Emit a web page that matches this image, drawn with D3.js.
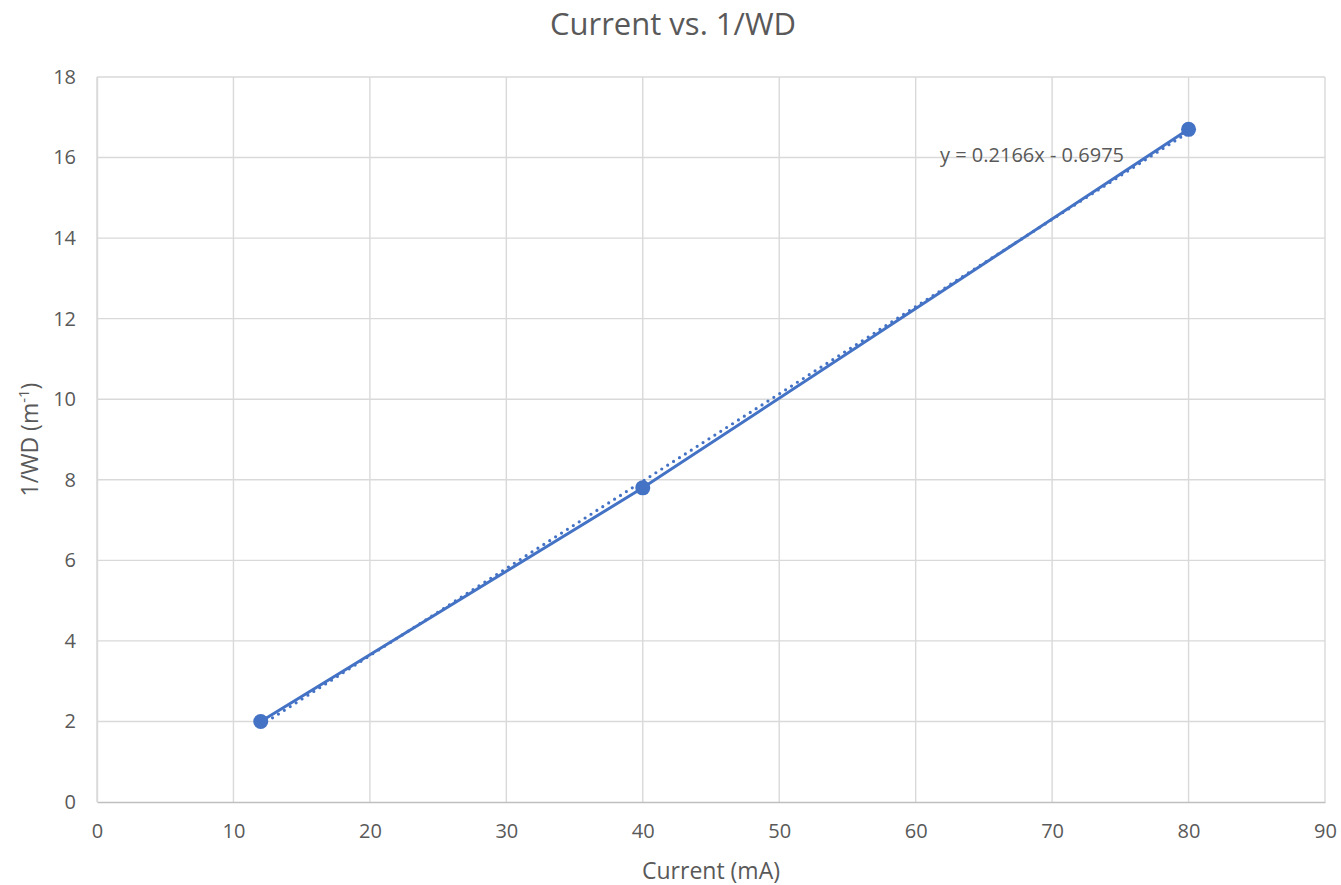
<!DOCTYPE html>
<html>
<head>
<meta charset="utf-8">
<script src="https://cdn.jsdelivr.net/npm/d3@7"></script>
<style>
  body { margin: 0; background: #fff; }
  text { font-family: "Open Sans", "Noto Sans", sans-serif; fill: #595959; }
</style>
</head>
<body>
<div id="chart"></div>
<script>
/* Current vs. 1/WD scatter with linear trendline */

const current = [12, 40, 80];          // mA
const invWD = [2.0, 7.8, 16.7];        // 1/WD (m^-1)
const xTicks = [0, 10, 20, 30, 40, 50, 60, 70, 80, 90];
const yTicks = [0, 2, 4, 6, 8, 10, 12, 14, 16, 18];
const slope = 0.2166, intercept = -0.6975;

const width = 1341, height = 885;
const margin = {top: 77, right: 16, bottom: 83, left: 97};

const x = d3.scaleLinear().domain([0, 90]).range([margin.left, width - margin.right]);
const y = d3.scaleLinear().domain([0, 18]).range([height - margin.bottom, margin.top]);

const svg = d3.select("#chart")
  .append("svg")
  .attr("width", width)
  .attr("height", height);

// gridlines
svg.append("g")
  .attr("stroke", "#d9d9d9")
  .attr("stroke-width", 1.4)
  .selectAll("line")
  .data(xTicks)
  .join("line")
  .attr("x1", d => x(d)).attr("x2", d => x(d))
  .attr("y1", y(0)).attr("y2", y(18));

svg.append("g")
  .attr("stroke", "#d9d9d9")
  .attr("stroke-width", 1.4)
  .selectAll("line")
  .data(yTicks.slice(1))
  .join("line")
  .attr("x1", x(0)).attr("x2", x(90))
  .attr("y1", d => y(d)).attr("y2", d => y(d));

// x axis
const xAxis = svg.append("g")
  .attr("transform", `translate(0,${y(0)})`)
  .call(d3.axisBottom(x).tickValues(xTicks).tickSize(0).tickPadding(22));
xAxis.select(".domain").attr("stroke", "#bfbfbf").attr("stroke-width", 1.4);
xAxis.selectAll("text").attr("font-size", 20).style("fill", "#595959");

// y axis
const yAxis = svg.append("g")
  .attr("transform", `translate(${x(0)},0)`)
  .call(d3.axisLeft(y).tickValues(yTicks).tickSize(0).tickPadding(21));
yAxis.select(".domain").attr("stroke", "#d9d9d9").attr("stroke-width", 1.4);
yAxis.selectAll("text").attr("font-size", 20).style("fill", "#595959");

const pts = current.map((c, i) => ({x: c, y: invWD[i]}));

// series line
svg.append("path")
  .datum(pts)
  .attr("fill", "none")
  .attr("stroke", "#4472c4")
  .attr("stroke-width", 3)
  .attr("d", d3.line().x(d => x(d.x)).y(d => y(d.y)));

// trendline (dotted)
const tx = d3.extent(current);
svg.append("path")
  .datum(tx.map(v => ({x: v, y: slope * v + intercept})))
  .attr("fill", "none")
  .attr("stroke", "#4472c4")
  .attr("stroke-width", 3.2)
  .attr("stroke-dasharray", "0 7")
  .attr("stroke-linecap", "round")
  .attr("d", d3.line().x(d => x(d.x)).y(d => y(d.y)));

// markers
svg.append("g")
  .selectAll("circle")
  .data(pts)
  .join("circle")
  .attr("cx", d => x(d.x))
  .attr("cy", d => y(d.y))
  .attr("r", 7.5)
  .attr("fill", "#4472c4");

// trendline equation
svg.append("text")
  .attr("x", 940)
  .attr("y", 162)
  .attr("font-size", 20)
  .text("y = 0.2166x - 0.6975");

// titles
svg.append("text")
  .attr("x", 673)
  .attr("y", 35)
  .attr("text-anchor", "middle")
  .attr("font-size", 31)
  .text("Current vs. 1/WD");

svg.append("text")
  .attr("x", (x(0) + x(90)) / 2)
  .attr("y", 879)
  .attr("text-anchor", "middle")
  .attr("font-size", 23)
  .text("Current (mA)");

const yt = svg.append("text")
  .attr("transform", `translate(38,${(y(0) + y(18)) / 2}) rotate(-90)`)
  .attr("text-anchor", "middle")
  .attr("font-size", 23);
yt.append("tspan").text("1/WD (m");
yt.append("tspan").attr("font-size", 15).attr("dy", -9).text("-1");
yt.append("tspan").attr("dy", 9).text(")");
</script>
</body>
</html>
